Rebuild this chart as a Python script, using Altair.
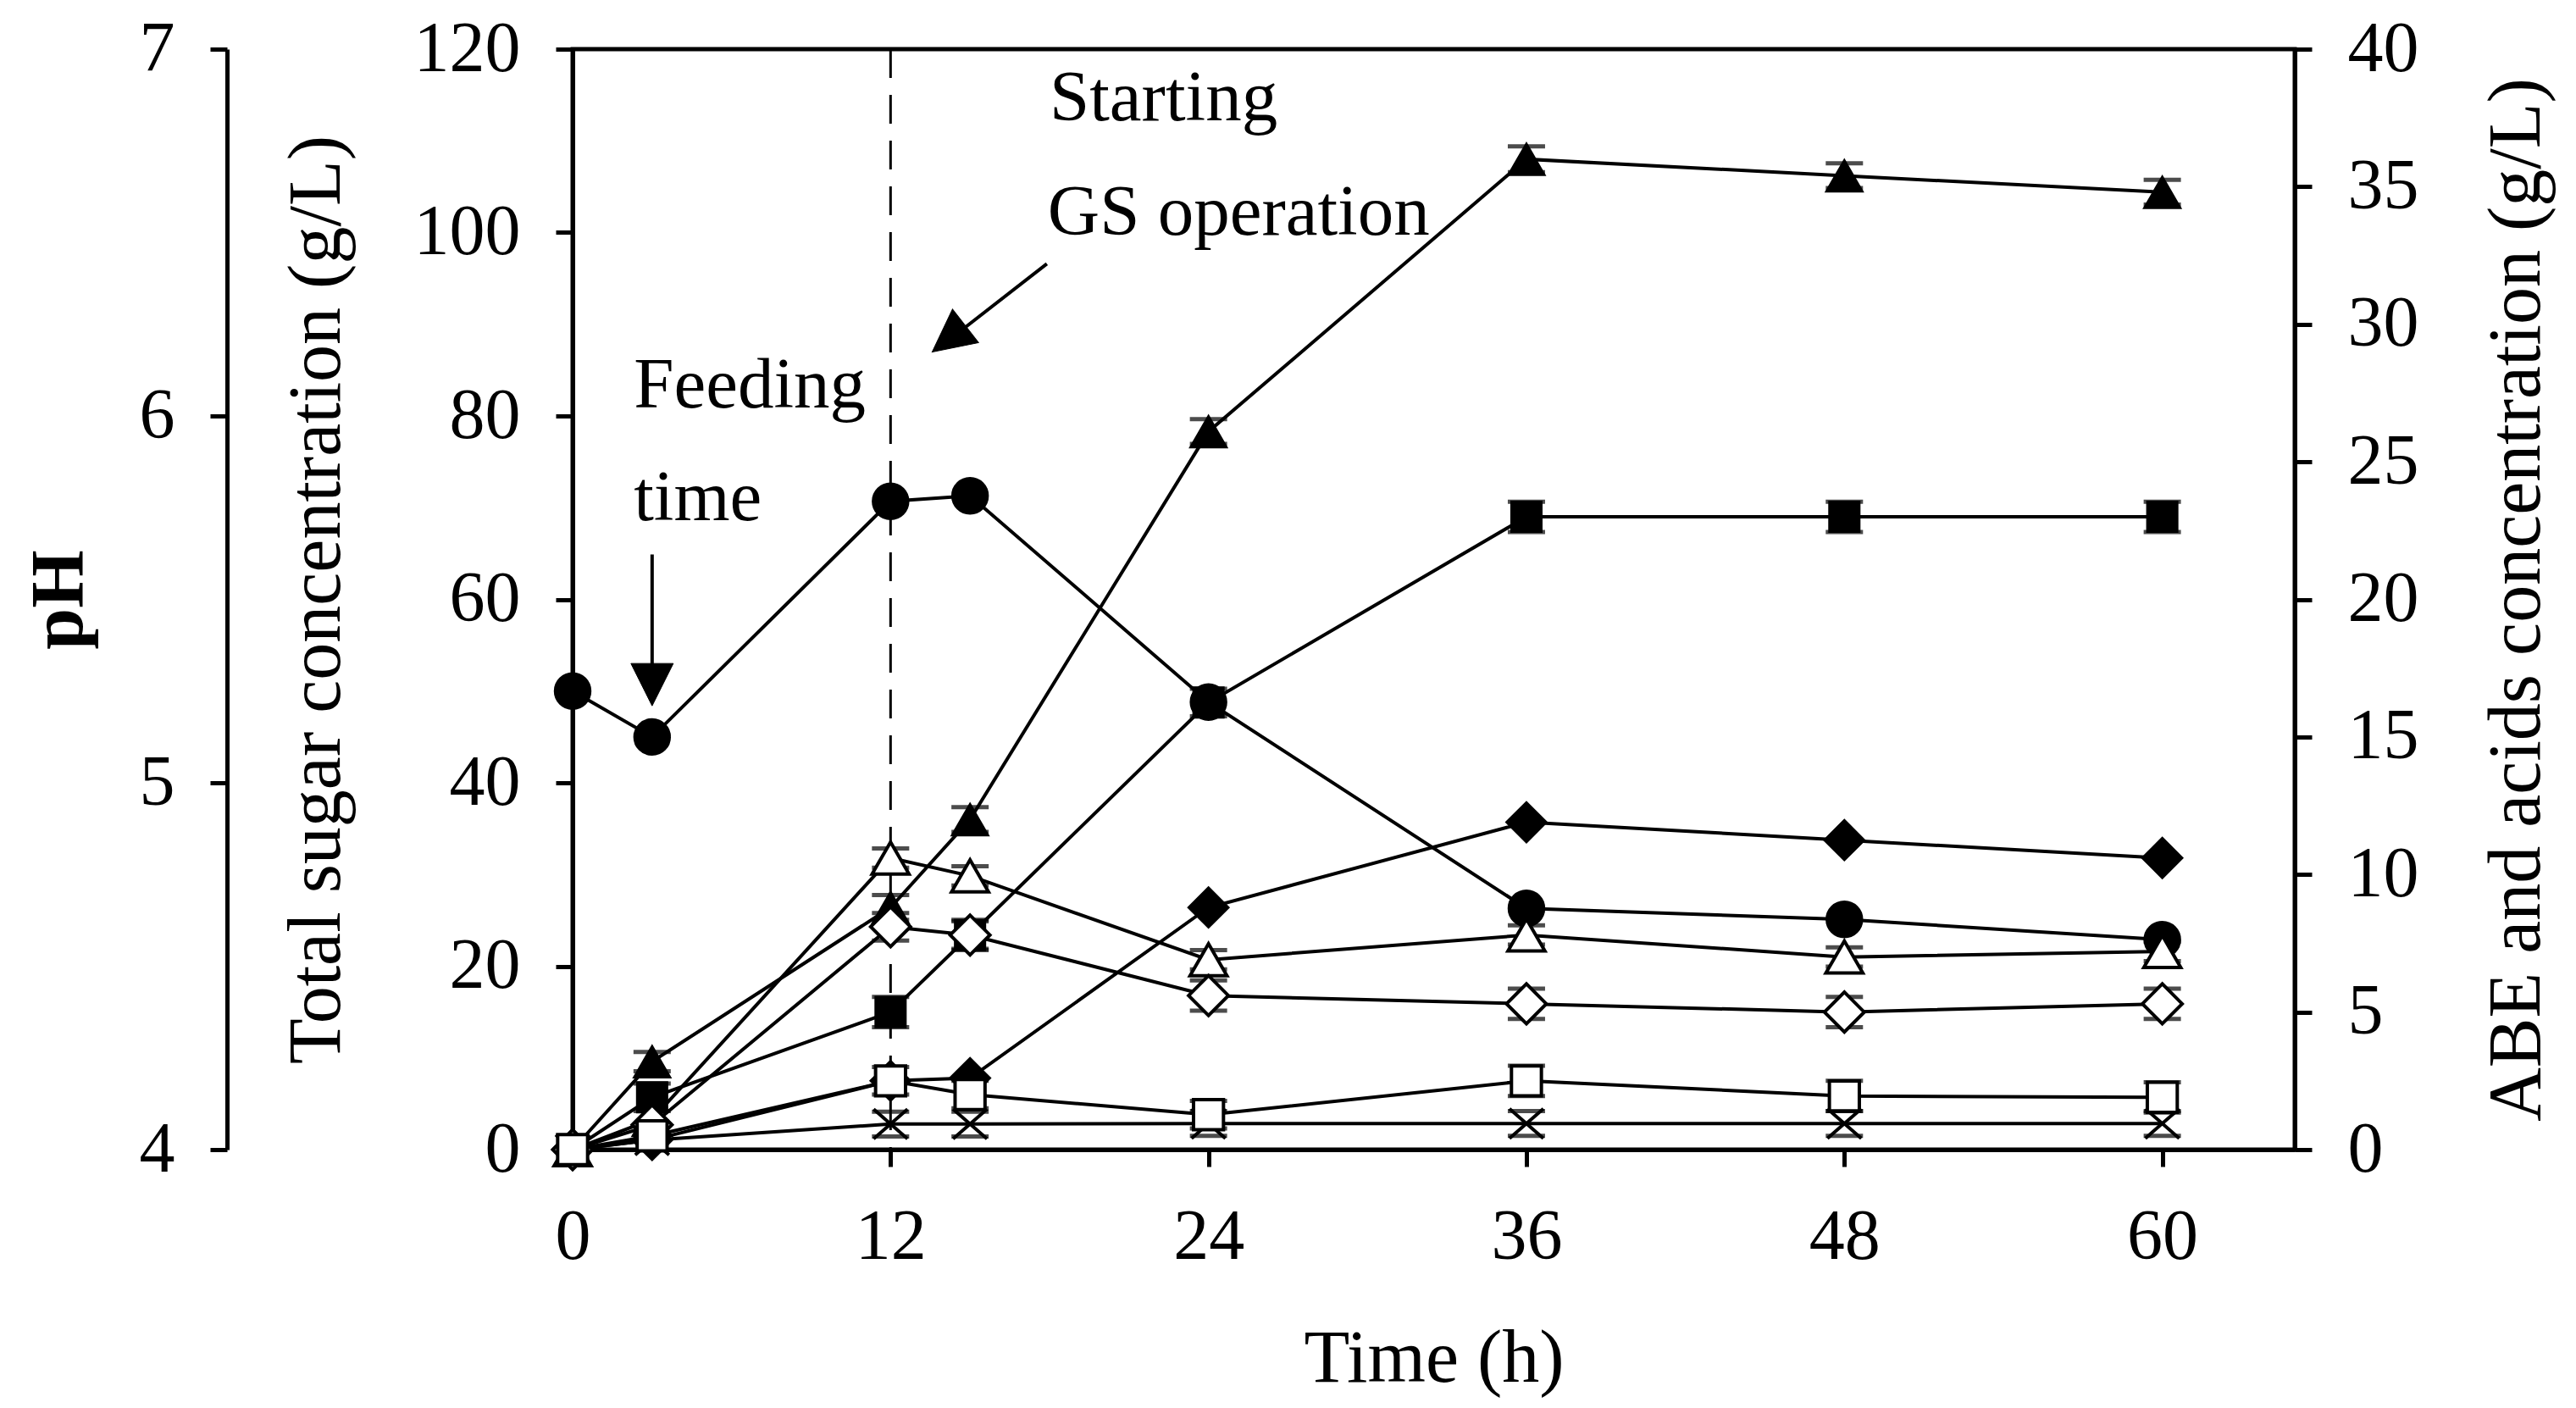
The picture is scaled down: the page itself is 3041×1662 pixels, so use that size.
import altair as alt
import pandas as pd

# ---------------- data ----------------
time_h = [0, 3, 12, 15, 24, 36, 48, 60]

# left axis: total sugar (g/L), filled circles
total_sugar = [50.0, 45.0, 70.7, 71.3, 48.8, 26.3, 25.1, 22.9]

# right axis: ABE and acids (g/L)
s_filled_triangle = [0.0, 3.2, 8.8, 12.0, 26.1, 36.0, 35.4, 34.8]
s_filled_square = [0.0, 1.9, 5.0, 7.8, 16.25, 23.0, 23.0, 23.0]
s_filled_diamond = [0.0, 0.35, 2.5, 2.6, 8.8, 11.9, 11.25, 10.6]
s_cross = [0.0, 0.35, 0.93, 0.93, 0.95, 0.95, 0.95, 0.95]
s_open_triangle = [0.0, 1.1, 10.6, 9.95, 6.9, 7.8, 7.0, 7.2]
s_open_diamond = [0.0, 0.9, 8.1, 7.8, 5.6, 5.3, 5.0, 5.3]
s_open_square = [0.0, 0.5, 2.5, 2.0, 1.27, 2.5, 1.95, 1.9]

# error half-widths (g/L) read from the caps
e_filled_triangle = [0.0, 0.35, 0.45, 0.45, 0.45, 0.47, 0.45, 0.45]
e_filled_square = [0.0, 0.5, 0.55, 0.55, 0.5, 0.55, 0.55, 0.55]
e_cross = [0.0, 0.0, 0.45, 0.45, 0.45, 0.45, 0.45, 0.45]
e_open_triangle = [0.0, 0.0, 0.35, 0.35, 0.35, 0.35, 0.35, 0.35]
e_open_diamond = [0.0, 0.0, 0.5, 0.5, 0.55, 0.55, 0.55, 0.55]
e_open_square = [0.0, 0.0, 0.5, 0.5, 0.5, 0.55, 0.55, 0.55]

ph_ticks = [4, 5, 6, 7]
sugar_ticks = [0, 20, 40, 60, 80, 100, 120]
abe_ticks = [0, 5, 10, 15, 20, 25, 30, 35, 40]
time_ticks = [0, 12, 24, 36, 48, 60]

FONT = "Liberation Serif"
FS = 84

series = [
    # name, values, errors, shape, fill, size, strokeWidth
    ("filled triangle", s_filled_triangle, e_filled_triangle, "triangle-up", "black", 1900, 2),
    ("filled square", s_filled_square, e_filled_square, "square", "black", 1300, 2),
    ("filled diamond", s_filled_diamond, None, "diamond", "black", 2300, 2),
    ("cross", s_cross, e_cross, "M-1,-0.875L1,0.875M-1,0.875L1,-0.875", "black", 1600, 4),
    ("open triangle", s_open_triangle, e_open_triangle, "triangle-up", "white", 1900, 4),
    ("open diamond", s_open_diamond, e_open_diamond, "diamond", "white", 2200, 4),
    ("open square", s_open_square, e_open_square, "square", "white", 1250, 4),
]

common = dict(tickSize=20, tickWidth=5, domainWidth=5, domainColor="black", tickColor="black",
              labelFont=FONT, labelFontSize=FS, labelColor="black", labelPadding=42,
              titleFont=FONT, titleFontSize=88, titleColor="black", grid=False)

x_axis = alt.Axis(values=time_ticks, title="Time (h)", titleFontWeight="normal",
                  titlePadding=58, labelFlush=False, **common)
x_scale = alt.Scale(domain=[0, 65], nice=False, zero=False)


def X(field="time"):
    return alt.X(f"{field}:Q", scale=x_scale, axis=x_axis)


def Ys(field="value", axis=None):
    return alt.Y(f"{field}:Q", scale=alt.Scale(domain=[0, 120], nice=False, zero=False), axis=axis)


def Ya(field="value", axis=None):
    return alt.Y(f"{field}:Q", scale=alt.Scale(domain=[0, 40], nice=False, zero=False), axis=axis)


sugar_axis = alt.Axis(orient="left", values=sugar_ticks, title="Total sugar concentration (g/L)",
                      titleFontWeight="normal", titlePadding=70, **common)
abe_axis = alt.Axis(orient="right", values=abe_ticks, title="ABE and acids concentration (g/L)",
                    titleFontWeight="normal", titleAngle=270, titleBaseline="top",
                    titlePadding=72, **common)
ph_axis = alt.Axis(orient="left", offset=408, values=ph_ticks, title="pH",
                   titleFontWeight="bold", titlePadding=50, **common)

sugar_df = pd.DataFrame({"time": time_h, "value": total_sugar})

rows = []
for order, (name, vals, errs, shape, fill, size, sw) in enumerate(series):
    for i, (t, v) in enumerate(zip(time_h, vals)):
        e = errs[i] if errs is not None else 0.0
        rows.append({"series": name, "order": order, "time": t, "value": v,
                     "lo": v - e, "hi": v + e, "err": e})
abe_df = pd.DataFrame(rows)

layers = []

# pH axis carrier (invisible)
ph_df = pd.DataFrame({"time": [0] * len(ph_ticks), "ph": ph_ticks})
layers.append(alt.Chart(ph_df).mark_point(opacity=0).encode(
    x=X(), y=alt.Y("ph:Q", scale=alt.Scale(domain=[4, 7], nice=False, zero=False), axis=ph_axis)))

# dashed line at 12 h
layers.append(alt.Chart(pd.DataFrame({"time": [12]})).mark_rule(
    color="black", strokeWidth=3, strokeDash=[34, 20]).encode(x=X()))

# sugar line (carries left axis)
layers.append(alt.Chart(sugar_df).mark_line(color="black", strokeWidth=4).encode(
    x=X(), y=Ys(axis=sugar_axis)))

# ABE lines (carries right axis)
layers.append(alt.Chart(abe_df).mark_line(color="black", strokeWidth=4).encode(
    x=X(), y=Ya(axis=abe_axis), detail="series:N", order="time:Q"))

# sugar markers
layers.append(alt.Chart(sugar_df).mark_point(shape="circle", filled=True, fill="black",
                                             stroke="black", strokeWidth=2, size=1800, opacity=1).encode(
    x=X(), y=Ys()))

# per-series caps and markers
for order, (name, vals, errs, shape, fill, size, sw) in enumerate(series):
    sub = abe_df[(abe_df["series"] == name)]
    if errs is not None:
        cap = sub[sub["err"] > 0]
        for fld in ("lo", "hi"):
            layers.append(alt.Chart(cap).mark_tick(orient="horizontal", color="black",
                                                   size=44, thickness=5).encode(
                x=X(), y=Ya(fld)))
    layers.append(alt.Chart(sub).mark_point(shape=shape, filled=True, fill=fill, stroke="black",
                                            strokeWidth=sw, size=size, opacity=1).encode(
        x=X(), y=Ya()))

# annotations (positions in time / sugar data units)
text_df = pd.DataFrame({
    "time": [2.31, 2.31, 18.0, 17.93],
    "value": [80.9, 68.6, 112.2, 99.8],
    "label": ["Feeding", "time", "Starting", "GS operation"],
})
layers.append(alt.Chart(text_df).mark_text(font=FONT, fontSize=85, align="left",
                                           baseline="alphabetic", color="black").encode(
    x=X(), y=Ys(), text="label:N"))

arrow_df = pd.DataFrame({
    "time": [3.0, 17.9], "value": [64.9, 96.6],
    "time2": [3.0, 14.3], "value2": [52.0, 88.5],
})
layers.append(alt.Chart(arrow_df).mark_rule(color="black", strokeWidth=4).encode(
    x=X(), y=Ys(), x2="time2:Q", y2="value2:Q"))

head_df = pd.DataFrame({"time": [3.0, 14.2], "value": [50.7, 88.4], "angle": [180, 232]})
layers.append(alt.Chart(head_df).mark_point(shape="M0,-1L-1,1L1,1Z", filled=True, fill="black",
                                            stroke="black", strokeWidth=1, size=2500, opacity=1).encode(
    x=X(), y=Ys(), angle=alt.Angle("angle:Q", scale=None)))

chart = alt.layer(*layers).resolve_scale(y="independent").properties(
    width=2033, height=1299,
    padding={"left": 668, "top": 50, "right": 324, "bottom": 297},
    autosize=alt.AutoSizeParams(type="none"),
    background="white",
).configure_view(stroke="black", strokeWidth=5)

chart.save("out.html", embed_options={"renderer": "svg", "actions": False})
